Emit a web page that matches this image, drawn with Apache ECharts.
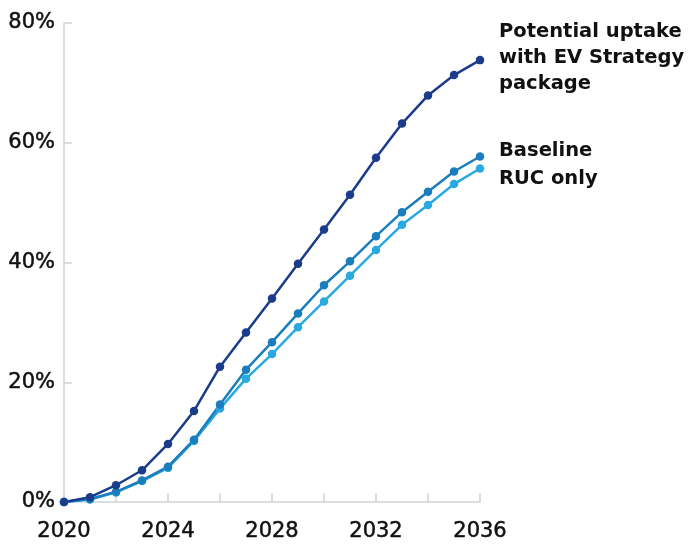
<!DOCTYPE html>
<html>
<head>
<meta charset="utf-8">
<script src="https://cdn.jsdelivr.net/npm/echarts@6/dist/echarts.min.js"></script>
<style>
html,body{margin:0;padding:0;background:#fff;}
#chart{width:694px;height:545px;}
</style>
</head>
<body>
<div id="chart"></div>
<script>
const years = [2020,2021,2022,2023,2024,2025,2026,2027,2028,2029,2030,2031,2032,2033,2034,2035,2036];
const potential = [0,0.8,2.8,5.3,9.7,15.2,22.6,28.3,34.0,39.8,45.5,51.3,57.5,63.2,67.9,71.3,73.8];
const baseline  = [0,0.5,1.7,3.6,5.9,10.4,16.3,22.1,26.7,31.5,36.2,40.2,44.4,48.4,51.8,55.2,57.7];
const rucOnly   = [0,0.4,1.6,3.5,5.7,10.2,15.6,20.6,24.7,29.2,33.5,37.8,42.1,46.3,49.6,53.1,55.7];
const yTicks = [0,20,40,60,80];
const xLabelYears = [2020,2024,2028,2032,2036];
const labelPotential = 'Potential uptake\nwith EV Strategy\npackage';
const labelBaseline = 'Baseline';
const labelRuc = 'RUC only';

const FONT = 'DejaVu Sans';
const pair = arr => years.map((y,i)=>[y,arr[i]]);

function mkSeries(name, data, color, label, offset){
  return {
    name, type:'line', data: pair(data),
    symbol:'circle', symbolSize:8.5, showSymbol:true,
    lineStyle:{color, width:2.5},
    itemStyle:{color},
    z: 3,
    endLabel:{
      show:true, formatter: label,
      color:'#111', fontFamily:FONT, fontWeight:'bold', fontSize:19.5,
      lineHeight:26, align:'left', verticalAlign:'middle',
      distance:5, offset
    },
    animation:false
  };
}

const axisText = {color:'#111', fontFamily:FONT, fontSize:21, textBorderColor:'#111', textBorderWidth:0.5};

const chart = echarts.init(document.getElementById('chart'));
chart.setOption({
  animation:false,
  backgroundColor:'#fff',
  grid:{left:64, right:214, top:23, bottom:43, containLabel:false},
  xAxis:{
    type:'value', min:2020, max:2036, interval:2,
    axisLine:{show:true, lineStyle:{color:'#d4d4d4', width:1.5}},
    axisTick:{show:true, inside:true, length:9, lineStyle:{color:'#d4d4d4', width:1.5}},
    splitLine:{show:false},
    axisLabel:Object.assign({}, axisText, {
      margin:19,
      formatter: v => xLabelYears.includes(v) ? String(v) : ''
    })
  },
  yAxis:{
    type:'value', min:yTicks[0], max:yTicks[yTicks.length-1], interval:20,
    axisLine:{show:true, lineStyle:{color:'#d4d4d4', width:1.5}},
    axisTick:{show:true, inside:true, length:8, lineStyle:{color:'#d4d4d4', width:1.5}},
    splitLine:{show:false},
    axisLabel:Object.assign({}, axisText, {margin:9, formatter:'{value}%'})
  },
  series:[
    mkSeries('RUC only', rucOnly, '#29a9e0', labelRuc, [14, 10]),
    mkSeries('Baseline', baseline, '#1b7dbd', labelBaseline, [14, -6]),
    mkSeries('Potential', potential, '#1b3b8b', labelPotential, [14, -2])
  ]
});
</script>
</body>
</html>
